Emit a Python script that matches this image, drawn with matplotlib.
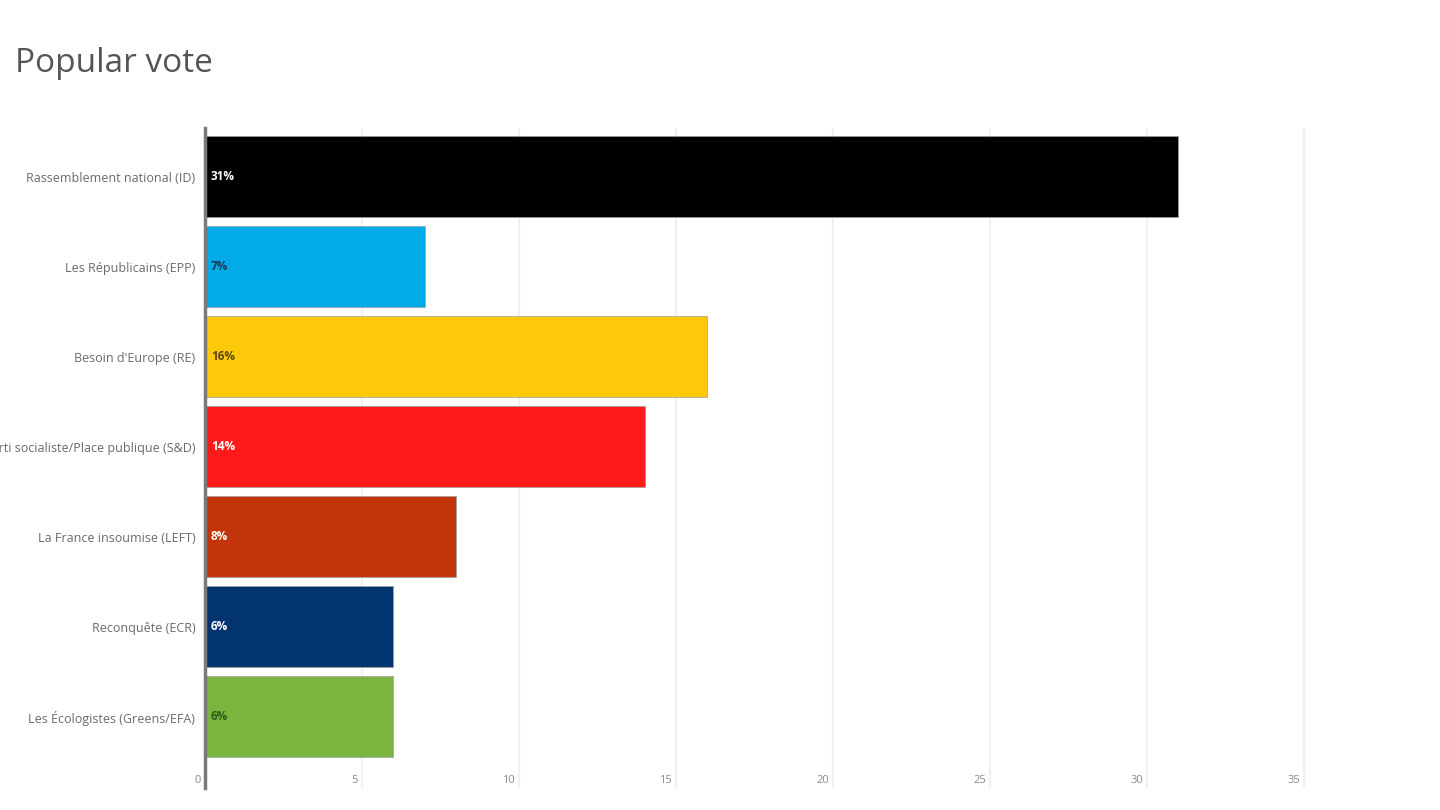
import matplotlib
matplotlib.use("Agg")
import matplotlib.pyplot as plt
from matplotlib.transforms import blended_transform_factory, ScaledTranslation

# ---- data ----
parties = [
    "Rassemblement national (ID)",
    "Les Républicains (EPP)",
    "Besoin d'Europe (RE)",
    "Parti socialiste/Place publique (S&D)",
    "La France insoumise (LEFT)",
    "Reconquête (ECR)",
    "Les Écologistes (Greens/EFA)",
]
values = [31, 7, 16, 14, 8, 6, 6]
bar_labels = ["31%", "7%", "16%", "14%", "8%", "6%", "6%"]
colors = ["#000000", "#00abe8", "#ffc808", "#ff1a1a", "#c2350a", "#02346f", "#7ab53f"]
label_colors = ["#ffffff", "#1a3a55", "#5a4a10", "#ffffff", "#ffffff", "#ffffff", "#2e5a1a"]
xticks = [0, 5, 10, 15, 20, 25, 30, 35]
title = "Popular vote"

plt.rcParams["font.family"] = ["Open Sans", "DejaVu Sans"]

fig = plt.figure(figsize=(14.4, 8.1), dpi=100)
ax = fig.add_axes([205/1440, 1-788/810, (1340-205)/1440, (788-128)/810])

y = list(range(len(parties)))
ax.barh(y, values, height=0.9, color=colors, edgecolor="#a0a0a0", linewidth=0.5, zorder=3)

ax.set_xlim(0, 36.15)
ax.set_ylim(6.79, -0.544)

# grid
for xv in xticks[1:]:
    ax.axvline(xv, color="#f0f0f0", linewidth=1.5, zorder=1)

for s in ["top", "right", "bottom"]:
    ax.spines[s].set_visible(False)
ax.spines["left"].set_color("#7a7a7a")
ax.spines["left"].set_linewidth(2.5)
ax.spines["left"].set_zorder(4)

ax.set_yticks(y)
ax.set_yticklabels(parties, fontsize=9, color="#6a6a6a")
ax.tick_params(axis="y", length=0, pad=7)
ax.set_xticks([])

# x tick labels inside the plot area, right-aligned left of gridline
trans = blended_transform_factory(ax.transData, ax.transAxes) + ScaledTranslation(-4/100, 0, fig.dpi_scale_trans)
for xv in xticks:
    ax.text(xv, 0.012, str(xv), transform=trans, ha="right", va="center",
            fontsize=8, color="#8a8a8a")

# bar labels
tlab = ax.transData + ScaledTranslation(6/100, 0, fig.dpi_scale_trans)
for yi, lab, lc in zip(y, bar_labels, label_colors):
    ax.text(0, yi, lab, transform=tlab, ha="left", va="center",
            fontsize=8.5, fontweight="bold", color=lc, zorder=5)

fig.text(15/1440, 1-63/810, title, fontsize=24, color="#555555", ha="left", va="center")

fig.savefig("out.png", dpi=100, facecolor="white")
